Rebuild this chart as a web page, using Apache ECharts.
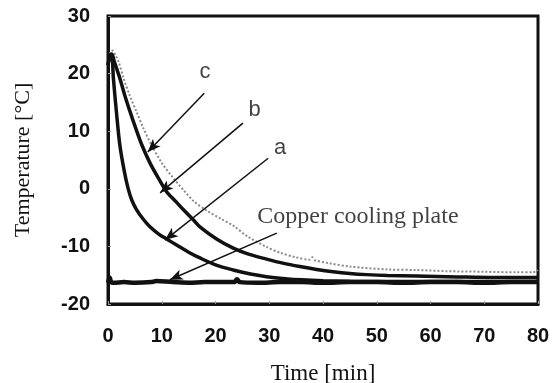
<!DOCTYPE html>
<html>
<head>
<meta charset="utf-8">
<script src="https://cdn.jsdelivr.net/npm/echarts@6/dist/echarts.min.js"></script>
<style>
  html, body { margin: 0; padding: 0; background: #fff; }
  #lineChart { width: 556px; height: 383px; }
</style>
</head>
<body>
<div id="lineChart"></div>
<script>
// 时间轴刻度 / 温度轴刻度
const xTicks = [0, 10, 20, 30, 40, 50, 60, 70, 80]
const yTicks = [-20, -10, 0, 10, 20, 30]

// curve a
const timeA = [0, 0.4, 0.7, 1.0, 1.6, 2.2, 3.0, 3.7, 4.4, 5.3, 6.5, 7.8, 9.5, 10.9, 13, 15, 17.1, 20, 23.3, 26.5, 29.5, 33, 36, 40, 45, 50, 60, 70, 80]
const tempA = [21.5, 23.2, 23.3, 19.2, 13, 7.6, 3.2, 0.2, -1.9, -3.6, -5.2, -6.6, -7.9, -8.7, -9.9, -11, -12, -13.2, -14.1, -14.8, -15.25, -15.6, -15.8, -15.95, -16.05, -16.1, -16.1, -16.1, -16.1]

// curve b
const timeB = [0, 0.4, 0.7, 1.2, 2.2, 3.1, 4.1, 5.2, 6.3, 7.8, 9.4, 10.9, 12.5, 14, 16, 17.1, 20.2, 23.3, 26, 29.5, 32.5, 35.7, 38.8, 41.9, 45, 48.1, 52, 57.4, 65, 72, 80]
const tempB = [21.5, 23.2, 23.4, 22, 19.2, 16.3, 13.4, 10.4, 7.6, 4.5, 1.8, -0.5, -2.1, -3.6, -5.5, -6.6, -8.7, -10.3, -11.3, -12.2, -12.9, -13.5, -14, -14.4, -14.7, -14.9, -15.05, -15.15, -15.3, -15.4, -15.4]

// curve c
const timeC = [0, 0.4, 0.8, 1.4, 2.0, 2.9, 4.0, 5.3, 6.6, 8.1, 10, 12.2, 14.3, 16, 18.4, 21, 23.3, 26, 29.5, 32, 35, 37.5, 38, 38.5, 41, 45, 52, 57.4, 63, 70, 76, 79, 80]
const tempC = [22, 23.7, 24, 23.2, 22, 19.2, 16.3, 13.4, 10.5, 7.6, 4.5, 1.8, -0.5, -2.2, -3.8, -5.2, -6.4, -8.3, -10.1, -11.1, -11.9, -12.3, -11.9, -12.4, -12.9, -13.5, -14.0, -14.1, -14.3, -14.4, -14.5, -14.5, -14.1]

// copper cooling plate
const timeCu = [0, 0.3, 0.6, 1, 3, 5, 8, 9, 12, 15, 18, 20, 23.5, 24, 24.5, 28, 32, 36, 40, 45, 50, 55, 60, 65, 70, 75, 80]
const tempCu = [-16.3, -15.4, -16.2, -16.3, -16.2, -16.3, -16.2, -16.0, -16.2, -16.3, -16.2, -16.2, -16.2, -15.7, -16.2, -16.3, -16.2, -16.2, -16.3, -16.2, -16.2, -16.3, -16.2, -16.2, -16.3, -16.2, -16.2]

// 注释箭头
const noteText = ['c', 'b', 'a', 'Copper cooling plate']
const noteFrom = [[17.9, 16.6], [25.1, 11.4], [29.8, 5.3], [31.4, -7.7]]
const noteTo = [[7.4, 6.4], [9.7, -0.7], [10.6, -8.9], [11.5, -15.8]]
const notePos = [[18.05, 20.3], [27.3, 13.7], [32, 7.1], [46.5, -4.9]]

const pairs = (ts, vs) => ts.map((t, i) => [t, vs[i]])

const serif = '"Liberation Serif", "DejaVu Serif", serif'
const sans = '"Liberation Sans", Arial, sans-serif'

const lineSeries = (name, ts, vs, style) => ({
  name: name,
  type: 'line',
  data: pairs(ts, vs),
  showSymbol: false,
  smooth: 0.3,
  lineStyle: style,
  z: 3
})

const chartOption_line = {
  animation: false,
  grid: {
    left: 108,
    right: 18,
    top: 16,
    bottom: 79,
    outerBoundsMode: 'none',
    containLabel: false,
    show: true,
    borderColor: '#111',
    borderWidth: 3
  },
  xAxis: {
    type: 'value',
    min: xTicks[0],
    max: xTicks[xTicks.length - 1],
    interval: 10,
    name: 'Time [min]',
    nameLocation: 'middle',
    nameGap: 58,
    nameTextStyle: { fontFamily: serif, fontSize: 23, color: '#111' },
    axisLine: { onZero: false, lineStyle: { color: '#111', width: 3 } },
    axisTick: { inside: true, length: 3, lineStyle: { color: '#999' } },
    axisLabel: { fontFamily: sans, fontWeight: 'bold', fontSize: 20, color: '#111', margin: 22 },
    splitLine: { show: false }
  },
  yAxis: {
    type: 'value',
    min: yTicks[0],
    max: yTicks[yTicks.length - 1],
    interval: 10,
    name: 'Temperature [°C]',
    nameLocation: 'middle',
    nameGap: 74,
    nameTextStyle: { fontFamily: serif, fontSize: 22, color: '#111' },
    axisLine: { show: true, onZero: false, lineStyle: { color: '#111', width: 3 } },
    axisTick: { show: true, inside: true, length: 3, lineStyle: { color: '#999' } },
    axisLabel: { fontFamily: sans, fontWeight: 'bold', fontSize: 20, color: '#111', margin: 18 },
    splitLine: { show: false }
  },
  series: [
    lineSeries('c', timeC, tempC, { color: '#8a8a8a', width: 2, type: 'dotted' }),
    lineSeries('b', timeB, tempB, { color: '#111', width: 3.5 }),
    lineSeries('a', timeA, tempA, { color: '#111', width: 3.5 }),
    lineSeries('Copper cooling plate', timeCu, tempCu, { color: '#111', width: 4.5 }),
    {
      name: 'notes',
      type: 'scatter',
      // 单字母标注用无衬线字体
      data: notePos.map((p, i) => ({
        value: p,
        name: noteText[i],
        label: noteText[i].length === 1 ? { fontFamily: sans, fontSize: 22 } : {}
      })),
      symbolSize: 0,
      label: {
        show: true,
        position: 'inside',
        formatter: '{b}',
        fontFamily: serif,
        fontSize: 24,
        color: '#111'
      },
      markLine: {
        silent: true,
        symbol: ['none', 'arrow'],
        symbolSize: [8, 13],
        label: { show: false },
        lineStyle: { color: '#111', width: 1.5, type: 'solid' },
        data: noteFrom.map((p, i) => [{ coord: p }, { coord: noteTo[i] }])
      },
      z: 4
    }
  ]
}

const myLineChart = echarts.init(document.getElementById('lineChart'))
myLineChart.setOption(chartOption_line, true)
</script>
</body>
</html>
